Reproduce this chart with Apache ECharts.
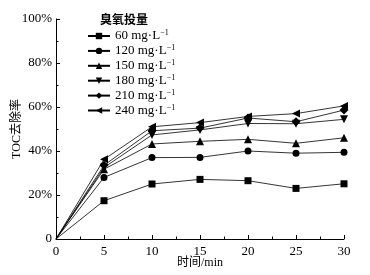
<!DOCTYPE html>
<html>
<head>
<meta charset="utf-8">
<script src="https://cdn.jsdelivr.net/npm/echarts@6/dist/echarts.min.js"></script>
<style>
html, body { margin: 0; padding: 0; background: #fff; }
#main { width: 370px; height: 275px; }
</style>
</head>
<body>
<div id="main"></div>
<script>
// 时间 (min)
var times = [0, 5, 10, 15, 20, 25, 30];
// TOC去除率 (%)
var s60 = [0, 17.4, 25.0, 27.1, 26.5, 23.0, 25.1];
var s120 = [0, 28.0, 37.0, 37.1, 40.0, 39.0, 39.4];
var s150 = [0, 31.7, 43.2, 44.4, 45.3, 43.5, 46.0];
var s180 = [0, 32.5, 47.3, 49.6, 52.5, 52.4, 54.4];
var s210 = [0, 33.5, 49.2, 50.4, 55.0, 53.3, 58.6];
var s240 = [0, 36.2, 51.0, 52.9, 55.7, 57.0, 60.5];
var names = ['60', '120', '150', '180', '210', '240'];

var serif = '"Liberation Serif", "DejaVu Serif", "Noto Sans CJK SC", serif';
var symbols = ['rect', 'circle', 'triangle', 'triangle', 'diamond', 'triangle'];
var rotates = [0, 0, 0, 180, 0, 90];
var sizes = [7, 7, 8, 8, 9, 8];
var allData = [s60, s120, s150, s180, s210, s240];

function pts(arr) {
	return times.map(function(t, i) {
		var p = { value: [t, arr[i]] };
		if (t === 0) p.symbol = 'none';
		return p;
	});
}

var chart = echarts.init(document.getElementById('main'));
var series = [];
for (var i = 0; i < names.length; i++) {
	series.push({
		name: names[i],
		type: 'line',
		data: pts(allData[i]),
		symbol: symbols[i],
		symbolRotate: rotates[i],
		symbolSize: sizes[i],
		showAllSymbol: true,
		lineStyle: { color: '#000', width: 0.8 },
		itemStyle: { color: '#000' },
		animation: false
	});
}

chart.setOption({
	animation: false,
	grid: { left: 56, right: 26, top: 19, bottom: 36, outerBoundsMode: 'none', containLabel: false },
	title: {
		text: '臭氧投量',
		left: 100, top: 15, padding: 0,
		textStyle: { fontFamily: serif, fontSize: 12, fontWeight: 'bold', color: '#000' }
	},
	legend: {
		orient: 'vertical',
		left: 87, top: 29, padding: 0,
		itemWidth: 22, itemHeight: 8, itemGap: 0.9,
		data: names,
		formatter: function(n) { return '{a|' + n + ' mg·L}{s|−1}'; },
		textStyle: {
			color: '#000',
			fontFamily: serif,
			lineHeight: 14,
			rich: {
				a: { fontFamily: serif, fontSize: 13, color: '#000', lineHeight: 14 },
				s: { fontFamily: serif, fontSize: 8, color: '#000', lineHeight: 14, verticalAlign: 'top' }
			}
		}
	},
	xAxis: {
		type: 'value', min: 0, max: 30, interval: 5,
		name: '时间/min', nameLocation: 'middle', nameGap: 18, nameMoveOverlap: false,
		nameTextStyle: { fontFamily: serif, fontSize: 12, color: '#000' },
		axisLine: { lineStyle: { color: '#000', width: 1 } },
		axisTick: { inside: true, length: 4, lineStyle: { color: '#000' } },
		minorTick: { show: true, splitNumber: 2, length: 2.5, lineStyle: { color: '#000' } },
		axisLabel: { fontFamily: serif, fontSize: 13, color: '#000', margin: 6 },
		splitLine: { show: false }
	},
	yAxis: {
		type: 'value', min: 0, max: 100, interval: 20,
		name: 'TOC去除率', nameLocation: 'middle', nameGap: 33, nameRotate: 90, nameMoveOverlap: false,
		nameTextStyle: { fontFamily: serif, fontSize: 12, color: '#000' },
		axisLine: { show: true, lineStyle: { color: '#000', width: 1 } },
		axisTick: { show: true, inside: true, length: 4, lineStyle: { color: '#000' } },
		minorTick: { show: true, splitNumber: 2, length: 2.5, lineStyle: { color: '#000' } },
		axisLabel: {
			fontFamily: serif, fontSize: 13, color: '#000', margin: 4,
			formatter: function(v) { return v === 0 ? '0' : v + '%'; }
		},
		splitLine: { show: false }
	},
	series: series
});
</script>
</body>
</html>
